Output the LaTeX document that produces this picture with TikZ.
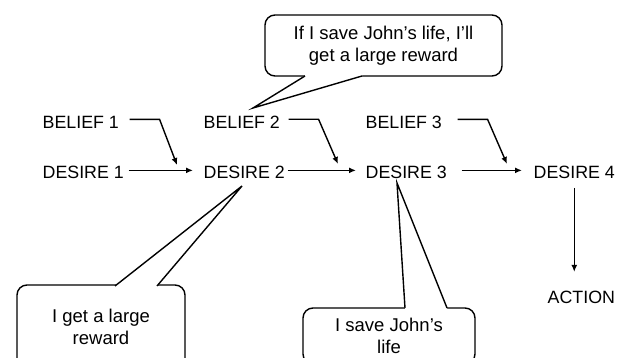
\documentclass[tikz,border=0pt]{standalone}
\usepackage{fontspec}
\setmainfont{Liberation Sans}
\usetikzlibrary{arrows.meta}

\begin{document}
\begin{tikzpicture}[x=1pt, y=-1pt, >={Latex[length=7pt,width=6pt]}, line width=1.4pt,
    lbl/.style={inner sep=0pt, anchor=base west, font=\fontsize{17.8}{20}\selectfont},
    link/.style={->},
    bubble/.style={draw, rounded corners=10pt, align=center, font=\fontsize{18.5}{21.5}\selectfont}]
  \path[use as bounding box, clip] (0,0) rectangle (624,358);

  % beliefs and desires
  \node[lbl] (b1) at (42,129) {BELIEF 1};
  \node[lbl] (d1) at (42,179) {DESIRE 1};
  \node[lbl] (b2) at (203,129) {BELIEF 2};
  \node[lbl] (d2) at (203,179) {DESIRE 2};
  \node[lbl] (b3) at (365,129) {BELIEF 3};
  \node[lbl] (d3) at (365,179) {DESIRE 3};
  \node[lbl] (d4) at (533,179) {DESIRE 4};
  \node[lbl] (act) at (547,303) {ACTION};

  \coordinate (j1) at (177,165);
  \coordinate (j2) at (338,164);
  \coordinate (j3) at (507,164);

  \draw[link] ([shift={(4,-2.5)}]d1.east) -- ([shift={(-10,-2.5)}]d2.west);
  \draw[link] ([shift={(2,-2.5)}]d2.east) -- ([shift={(-9,-2.5)}]d3.west);
  \draw[link] ([shift={(14,-2.5)}]d3.east) -- ([shift={(-11,-2.5)}]d4.west);
  \draw[link] ([shift={(10,-3.5)}]b1.east) -- ++(30,0) -- (j1);
  \draw[link] ([shift={(8,-3.5)}]b2.east) -- ++(30,0) -- (j2);
  \draw[link] ([shift={(15,-3.5)}]b3.east) -- ++(30,0) -- (j3);
  \draw[link, shorten <=8pt, shorten >=18pt] (d4.south) -- (d4.south |- act.north);

  % speech bubbles
  \node[bubble, minimum width=237pt, minimum height=61pt] (plan) at (383.5,45.5)
    {If I save John's life, I'll\\get a large reward};
  \node[bubble, minimum width=168pt, minimum height=84pt] (reward) at (101,327)
    {I get a large\\reward};
  \node[bubble, minimum width=172pt, minimum height=56pt] (save) at (389,336)
    {I save John's\\life};

  \coordinate (t1) at (253,108);
  \coordinate (t2) at (242,186);
  \coordinate (t3) at (397,183);

  \fill[white] (305,73) -- (305,76) -- (t1) -- (362,76) -- (362,73) -- cycle;
  \draw (305,76) -- (t1) -- (362,76);
  \fill[white] (115,289) -- (115,286) -- (t2) -- (157,286) -- (157,289) -- cycle;
  \draw (115,286) -- (t2) -- (157,286);
  \fill[white] (405,311) -- (405,308) -- (t3) -- (447,308) -- (447,311) -- cycle;
  \draw (405,308) -- (t3) -- (447,308);
\end{tikzpicture}
\end{document}
